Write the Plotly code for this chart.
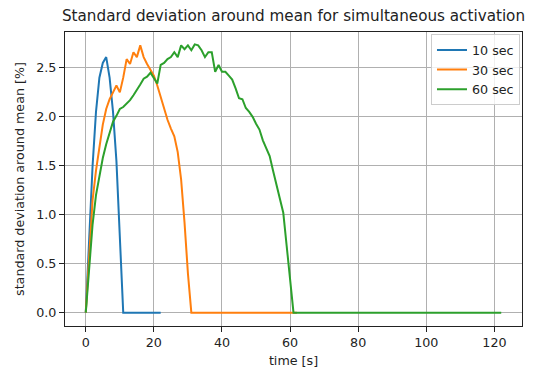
import plotly.graph_objects as go

# ---- data ----
t10 = [0, 1, 2, 3, 4, 5, 6, 7, 8, 9, 10, 11, 22]
v10 = [0.0, 0.8, 1.5, 2.05, 2.4, 2.55, 2.61, 2.4, 2.05, 1.55, 0.75, 0.0, 0.0]

t30 = [0, 1, 2, 3, 4, 5, 6, 7, 8, 9, 10, 11, 12, 13, 14, 15, 16, 17, 18, 19,
       20, 21, 22, 23, 24, 25, 26, 27, 28, 29, 30, 31, 62]
v30 = [0.0, 0.62, 1.15, 1.45, 1.68, 1.92, 2.08, 2.18, 2.25, 2.32, 2.25, 2.4,
       2.59, 2.54, 2.66, 2.61, 2.73, 2.61, 2.54, 2.48, 2.42, 2.32, 2.2, 2.08,
       1.97, 1.88, 1.8, 1.64, 1.36, 0.92, 0.4, 0.0, 0.0]

t60 = [0, 1, 2, 3, 4, 5, 6, 7, 8, 9, 10, 11, 12, 13, 14, 15, 16, 17, 18, 19,
       20, 21, 22, 23, 24, 25, 26, 27, 28, 29, 30, 31, 32, 33, 34, 35, 36, 37,
       38, 39, 40, 41, 42, 43, 44, 45, 46, 47, 48, 49, 50, 51, 52, 53, 54, 55,
       56, 57, 58, 59, 60, 61, 122]
v60 = [0.0, 0.5, 0.9, 1.2, 1.4, 1.58, 1.72, 1.84, 1.95, 2.01, 2.08, 2.1, 2.13,
       2.17, 2.22, 2.27, 2.33, 2.39, 2.41, 2.45, 2.39, 2.34, 2.53, 2.55, 2.59,
       2.61, 2.66, 2.61, 2.73, 2.69, 2.73, 2.68, 2.74, 2.73, 2.68, 2.61, 2.66,
       2.66, 2.46, 2.53, 2.46, 2.46, 2.42, 2.38, 2.29, 2.19, 2.18, 2.09, 2.05,
       2.0, 1.93, 1.87, 1.76, 1.68, 1.6, 1.45, 1.3, 1.16, 1.02, 0.68, 0.3, 0.0,
       0.0]

series = [("10 sec", t10, v10, "#1f77b4"),
          ("30 sec", t30, v30, "#ff7f0e"),
          ("60 sec", t60, v60, "#2ca02c")]

x_ticks = [0, 20, 40, 60, 80, 100, 120]
y_ticks = [0.0, 0.5, 1.0, 1.5, 2.0, 2.5]

FONT = "DejaVu Sans"
FS = 12.7
TS = 15.2

fig = go.Figure()
for name, t, v, c in series:
    fig.add_trace(go.Scatter(x=t, y=v, mode="lines", name=name,
                             line=dict(color=c, width=2)))

axis_common = dict(
    showline=True, linecolor="#222222", linewidth=1.1, mirror=True,
    ticks="outside", ticklen=5, tickcolor="#222222", tickwidth=1.1,
    showgrid=True, gridcolor="#b0b0b0", gridwidth=1.05, zeroline=False,
    tickfont=dict(family=FONT, size=FS, color="#222222"),
    automargin=False,
)

fig.update_xaxes(range=[-6.1, 128.1], tickvals=x_ticks,
                 title=dict(text="time [s]", font=dict(family=FONT, size=FS, color="#222222"), standoff=6),
                 **axis_common)
fig.update_yaxes(range=[-0.1365, 2.8665], tickvals=y_ticks, tickformat=".1f",
                 title=dict(text="standard deviation around mean [%]",
                            font=dict(family=FONT, size=FS, color="#222222"), standoff=8),
                 **axis_common)

fig.update_layout(
    width=547, height=371,
    margin=dict(l=65, r=25, t=32, b=45),
    paper_bgcolor="white", plot_bgcolor="white",
    font=dict(family=FONT, size=FS, color="#222222"),
    title=dict(text="Standard deviation around mean for simultaneous activation",
               font=dict(family=FONT, size=TS, color="#222222"),
               x=0.5, xref="paper", xanchor="center",
               y=1 - 16 / 371, yref="container", yanchor="middle"),
    legend=dict(x=0.9956, y=0.992, xanchor="right", yanchor="top",
                bgcolor="rgba(255,255,255,0.8)", bordercolor="#cccccc", borderwidth=1,
                font=dict(family=FONT, size=FS, color="#222222"),
                itemwidth=30),
    showlegend=True,
)

fig.write_html("out.html")
